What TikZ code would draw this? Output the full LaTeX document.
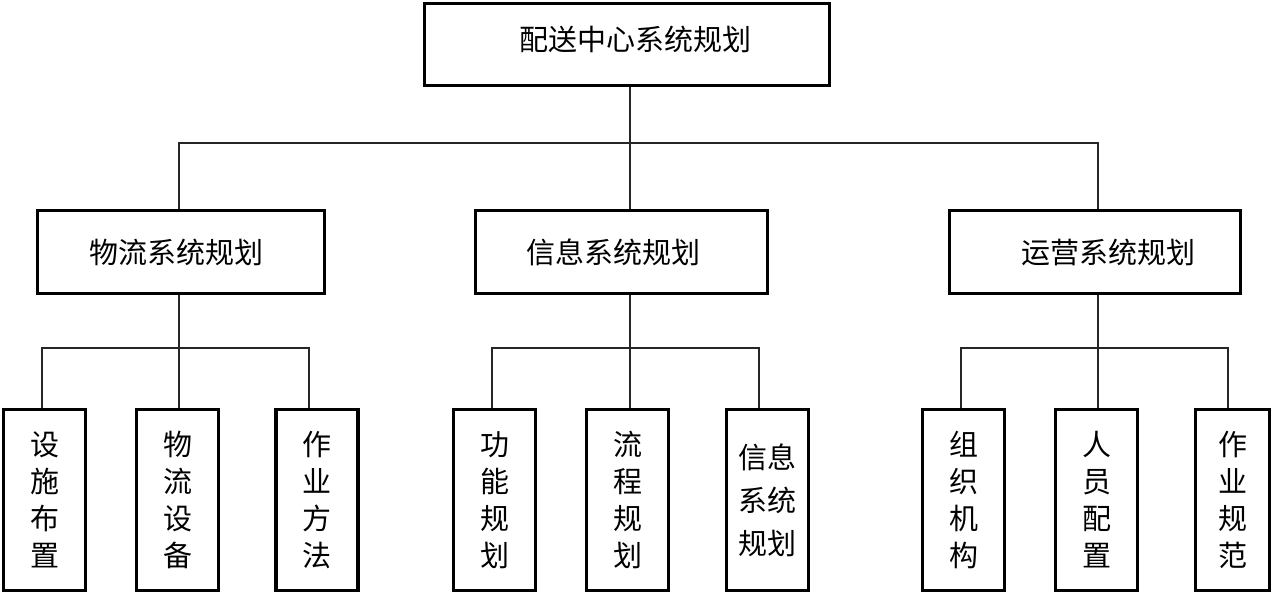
\documentclass[tikz,border=0pt]{standalone}
\usepackage{fontspec}
\newfontfamily\cjk{Noto Sans CJK SC}
\begin{document}
\begin{tikzpicture}[x=1pt,y=-1pt,
  box/.style={draw=black,line width=3.2pt,inner sep=0pt,align=center,
    font=\cjk\fontsize{29}{37}\selectfont},
  hbox/.style={box,minimum height=83pt},
  vbox/.style={box,minimum width=82pt,minimum height=181pt},
  conn/.style={draw=black!85,line width=1.2pt}]
\useasboundingbox (0,0) rectangle (1272,596);
% top
\node[box,minimum width=405pt,minimum height=82pt] (top) at (627,44.5) {\hspace*{16pt}\raisebox{5pt}[\height][\depth]{配送中心系统规划}};
% second level
\node[hbox,minimum width=287pt] (L2a) at (181,252) {物流系统规划\hspace*{9pt}};
\node[hbox,minimum width=292pt] (L2b) at (621.5,252) {信息系统规划\hspace*{17pt}};
\node[hbox,minimum width=291pt] (L2c) at (1095,252) {\hspace*{26pt}运营系统规划};
% third level
\node[vbox] (a1) at (44.5,500) {设\\施\\布\\置};
\node[vbox] (a2) at (177.5,500) {物\\流\\设\\备};
\node[vbox] (a3) at (317,500) {作\\业\\方\\法};
\node[vbox] (b1) at (494.5,500) {功\\能\\规\\划};
\node[vbox] (b2) at (627.5,500) {流\\程\\规\\划};
\node[vbox,font=\cjk\fontsize{29}{43}\selectfont] (b3) at (767.5,500) {信息\\系统\\规划};
\node[vbox] (c1) at (963.5,500) {组\\织\\机\\构};
\node[vbox] (c2) at (1096.5,500) {人\\员\\配\\置};
\node[vbox,minimum width=74pt] (c3) at (1232.5,500) {作\\业\\规\\范};
% junctions level 1
\coordinate (j0) at (630,143);
\coordinate (ja) at (179,143);
\coordinate (jc) at (1098,143);
\draw[conn] (top.south -| j0) -- (L2b.north -| j0);
\draw[conn] (L2a.north -| ja) -- (ja) -- (jc) -- (L2c.north -| jc);
% left group
\coordinate (ta) at (179,348);
\coordinate (la1) at (42,348);
\coordinate (la3) at (309,348);
\draw[conn] (L2a.south -| ta) -- (a2.north -| ta);
\draw[conn] (a1.north -| la1) -- (la1) -- (la3) -- (a3.north -| la3);
% middle group
\coordinate (tb) at (630,348);
\coordinate (lb1) at (492,348);
\coordinate (lb3) at (759,348);
\draw[conn] (L2b.south -| tb) -- (b2.north -| tb);
\draw[conn] (b1.north -| lb1) -- (lb1) -- (lb3) -- (b3.north -| lb3);
% right group
\coordinate (tc) at (1098,348);
\coordinate (lc1) at (961,348);
\coordinate (lc3) at (1228,348);
\draw[conn] (L2c.south -| tc) -- (c2.north -| tc);
\draw[conn] (c1.north -| lc1) -- (lc1) -- (lc3) -- (c3.north -| lc3);
\end{tikzpicture}
\end{document}
